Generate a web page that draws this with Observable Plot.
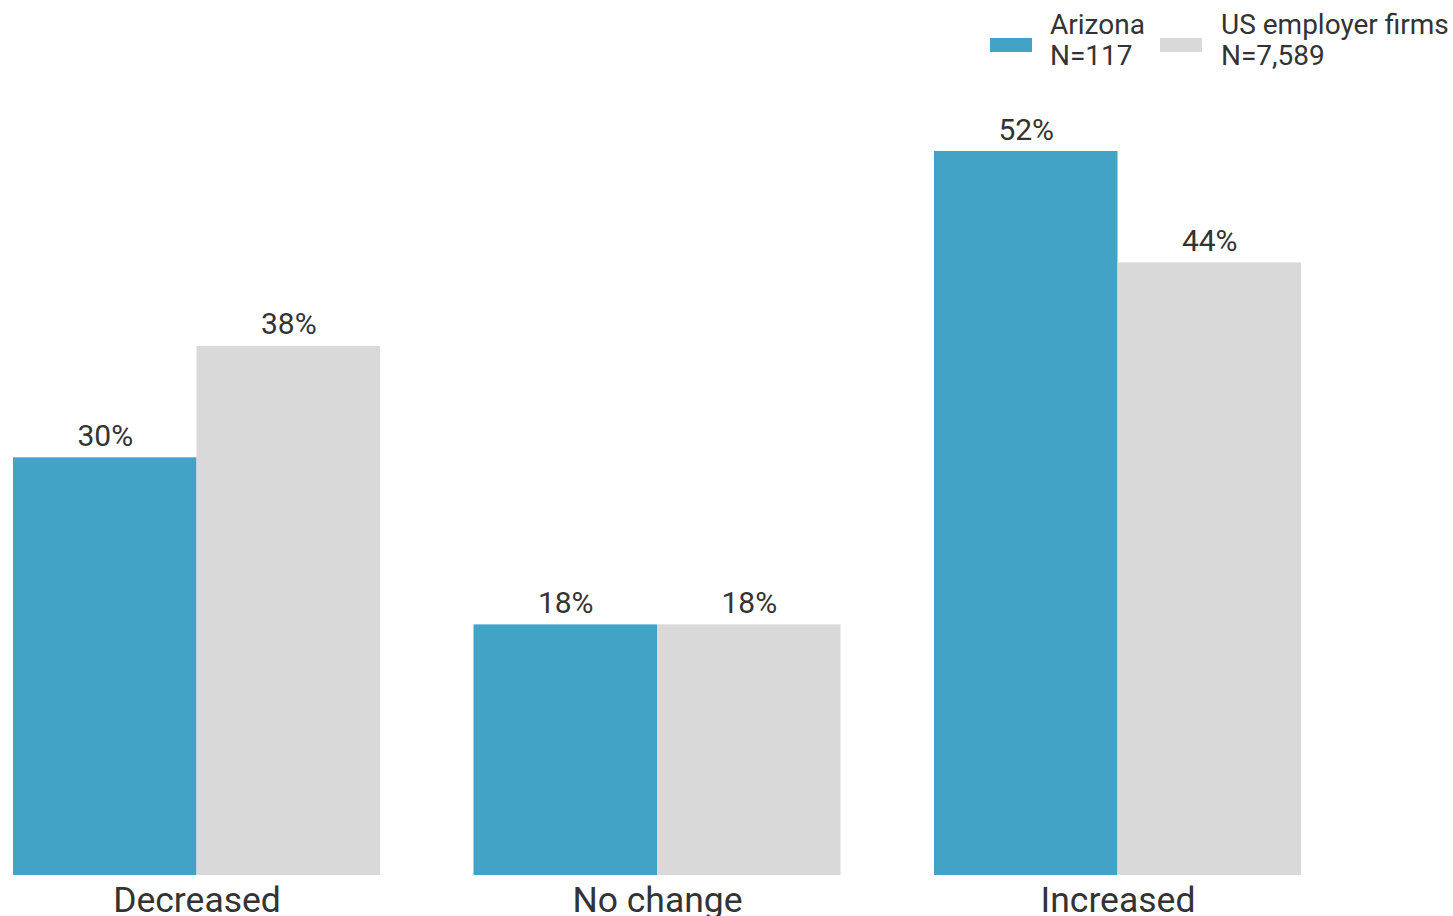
<!DOCTYPE html>
<html>
<head>
<meta charset="utf-8">
<script src="https://cdn.jsdelivr.net/npm/d3@7"></script>
<script src="https://cdn.jsdelivr.net/npm/@observablehq/plot@0.6"></script>
<style>
  html, body { margin: 0; padding: 0; background: #fff; }
  body { width: 1453px; height: 916px; overflow: hidden; position: relative; font-family: Roboto, sans-serif; }
  #chart { position: absolute; left: 0; top: 0; }
  .legend { position: absolute; top: 0; left: 0; font-family: Roboto, sans-serif; font-size: 28px; color: #333; }
  .sw { position: absolute; width: 42px; height: 14px; top: 38px; }
  .lt { position: absolute; top: 9px; line-height: 31px; white-space: nowrap; }
</style>
</head>
<body>
<div id="chart"></div>
<div class="legend" id="legend"></div>
<script>
const categories = ["Decreased", "No change", "Increased"];
const seriesNames = ["Arizona", "US employer firms"];
const seriesN = ["N=117", "N=7,589"];
const arizona = [30, 18, 52];
const usFirms = [38, 18, 44];
const colors = ["#42a3c7", "#d9d9d9"];

const data = [];
categories.forEach((c, i) => {
  data.push({category: c, series: seriesNames[0], value: arizona[i]});
  data.push({category: c, series: seriesNames[1], value: usFirms[i]});
});

const chart = Plot.plot({
  width: 1453,
  height: 916,
  marginLeft: 13,
  marginRight: 152,
  marginTop: 151,
  marginBottom: 41,
  style: {fontFamily: "Roboto, sans-serif", color: "#333", background: "#fff"},
  fx: {domain: categories, paddingInner: 0.203, paddingOuter: 0, round: false, label: null},
  x: {domain: seriesNames, padding: 0, round: false, axis: null},
  y: {domain: [0, 52], axis: null},
  color: {domain: seriesNames, range: colors},
  marks: [
    Plot.barY(data, {fx: "category", x: "series", y: "value", fill: "series"}),
    Plot.text(data, {fx: "category", x: "series", y: "value", text: d => d.value + "%",
      lineAnchor: "bottom", dy: -12, fontSize: 30, fill: "#333"}),
    Plot.axisFx({anchor: "bottom", tickSize: 0, tickPadding: 11, fontSize: 35.5, label: null, fill: "#333"})
  ]
});
document.getElementById("chart").appendChild(chart);

const legend = document.getElementById("legend");
const swLeft = [990, 1160];
const txtLeft = [1050, 1221];
seriesNames.forEach((s, i) => {
  const sw = document.createElement("div");
  sw.className = "sw";
  sw.style.left = swLeft[i] + "px";
  sw.style.background = colors[i];
  legend.appendChild(sw);
  const t = document.createElement("div");
  t.className = "lt";
  t.style.left = txtLeft[i] + "px";
  t.innerHTML = s + "<br>" + seriesN[i];
  legend.appendChild(t);
});
</script>
</body>
</html>
